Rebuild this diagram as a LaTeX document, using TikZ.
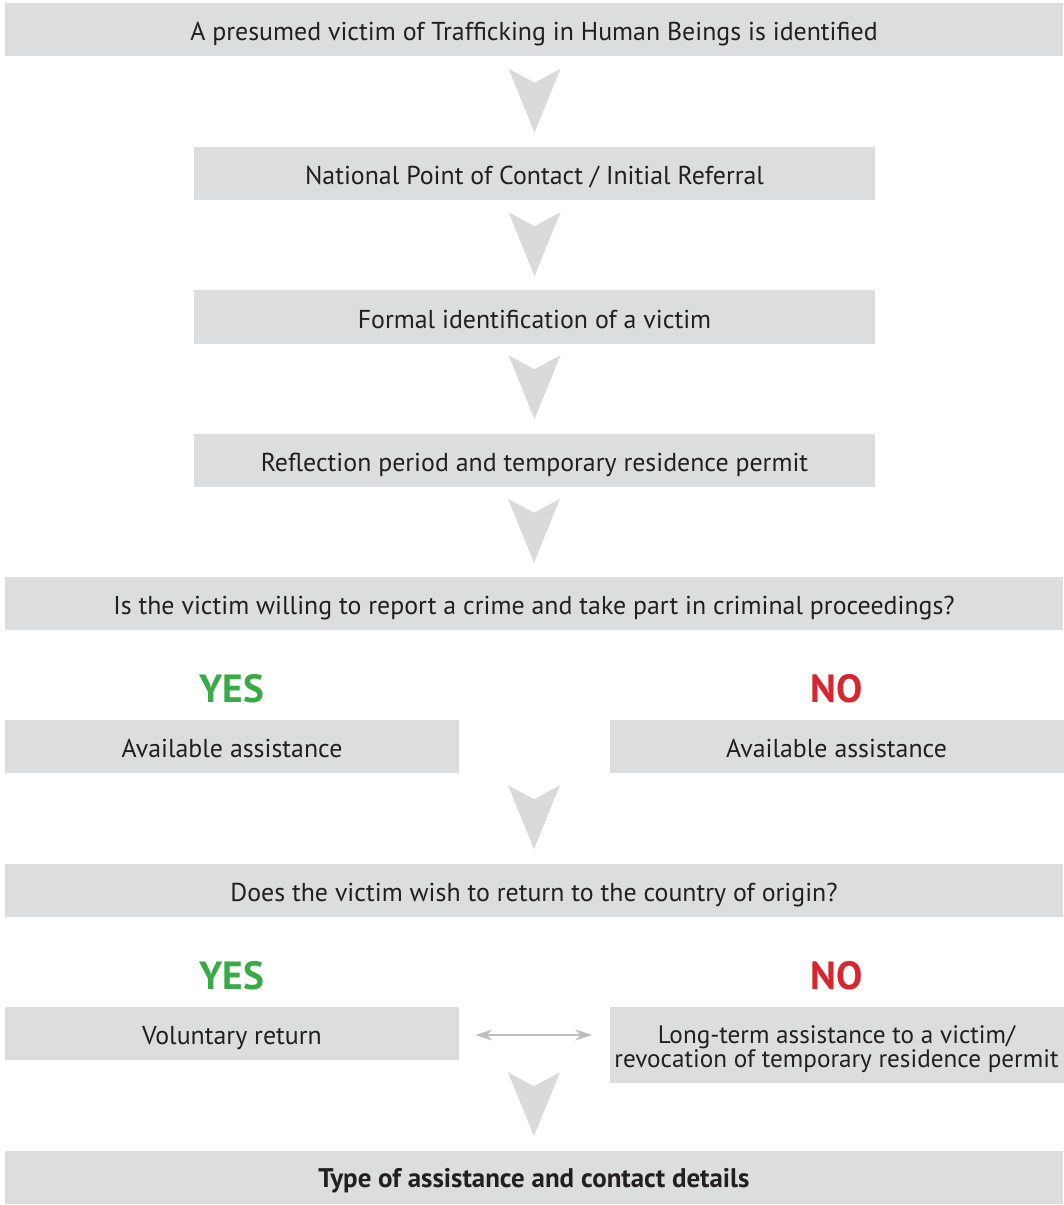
\documentclass[tikz,border=0pt]{standalone}
\usepackage{fontspec}
\setmainfont{PT Sans}
\usetikzlibrary{arrows.meta,calc}

\definecolor{boxgray}{HTML}{DCDDDE}
\definecolor{chevgray}{HTML}{D9DADB}
\definecolor{arrowgray}{HTML}{BDBEC0}
\definecolor{yesgreen}{HTML}{3AAA47}
\definecolor{nored}{HTML}{D7262E}
\definecolor{textdark}{HTML}{231F20}

% chevron sitting 14px above the north side of a node
\newcommand{\chevronabove}[1]{%
  \fill [chevgray] ($(#1.north)+(0,-14)$) -- ++(-26,-64) -- ++(26,14) -- ++(26,-14) -- cycle;}

\begin{document}
\begin{tikzpicture}[x=0.75pt, y=-0.75pt,
    box/.style={fill=boxgray, inner sep=0pt, text=textdark, align=center,
      minimum height=53*0.75pt, text height=16.8pt, text depth=0pt,
      font=\fontsize{19.4}{18}\selectfont},
    widebox/.style={box, minimum width=1058*0.75pt},
    midbox/.style={box, minimum width=681*0.75pt},
    halfbox/.style={box, minimum width=454*0.75pt},
    answer/.style={font=\fontsize{29.5}{30}\selectfont\bfseries}]
    \useasboundingbox (0,0) rectangle (1063,1205);
    % steps
    \node [widebox] (found)   at (534, 29.5)  {A presumed victim of Trafficking in Human Beings is identified};
    \node [midbox]  (contact) at (534.5, 173.5) {National Point of Contact / Initial Referral};
    \node [midbox]  (formal)  at (534.5, 317)   {Formal identification of a victim};
    \node [midbox]  (reflect) at (534.5, 460)   {Reflection period and temporary residence permit};
    \node [widebox] (report)  at (534, 603.5)   {Is the victim willing to report a crime and take part in criminal proceedings?};
    % first answer
    \node [answer, text=yesgreen] (yesA) at (232, 689)   {YES};
    \node [answer, text=nored]    (noA)  at (836.5, 689) {NO};
    \node [halfbox] (helpyes) at (232, 746)   {Available assistance};
    \node [halfbox] (helpno)  at (836.5, 746) {Available assistance};
    \node [widebox] (origin)  at (534, 890)   {Does the victim wish to return to the country of origin?};
    % second answer
    \node [answer, text=yesgreen] (yesB) at (232, 976)   {YES};
    \node [answer, text=nored]    (noB)  at (836.5, 976) {NO};
    \node [halfbox] (goback)  at (232, 1033) {Voluntary return};
    \node [halfbox, minimum height=76*0.75pt, text height=33.8pt, text depth=0pt,
      font=\fontsize{18.9}{18}\selectfont] (longterm) at (836.5, 1044.5)
      {Long-term assistance to a victim/\\revocation of temporary residence permit};
    \node [widebox, text height=15pt, font=\fontsize{20.2}{18}\selectfont\bfseries] (details) at (534, 1177)
      {Type of assistance and contact details};
    % chevrons
    \chevronabove{contact}
    \chevronabove{formal}
    \chevronabove{reflect}
    \chevronabove{report}
    \chevronabove{origin}
    \chevronabove{details}
    % both ways
    \draw [arrowgray, line width=1.5pt, {Stealth[length=12.75pt, width=8.25pt]}-{Stealth[length=12.75pt, width=8.25pt]}]
      ([xshift=12pt]goback.east |- 0,1035) -- ([xshift=-12.75pt]longterm.west |- 0,1035);
  \end{tikzpicture}
\end{document}
